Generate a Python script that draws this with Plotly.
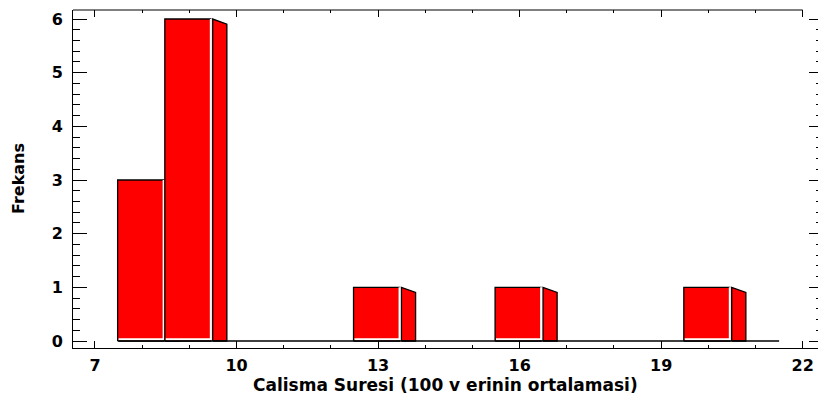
import plotly.graph_objects as go

# Histogram data: bin centres (width 1) and frequencies
bin_centers = [8, 9, 10, 11, 12, 13, 14, 15, 16, 17, 18, 19, 20, 21]
counts = [3, 6, 0, 0, 0, 1, 0, 0, 1, 0, 0, 0, 1, 0]
x_ticks = [7, 10, 13, 16, 19, 22]
y_ticks = [0, 1, 2, 3, 4, 5, 6]

BIN_W = 1.0
FRONT_L = -0.02      # front face offset from bin start
FRONT_R = 0.955      # front face end relative to bin start
SIDE_GAP = 0.04      # gap between front face and side face
DEPTH = 0.30         # depth of the 3D side face (x units)
SLANT = 0.095        # drop of the side face top (y units)
RED = "#FF0000"
FONT = "DejaVu Sans"

fig = go.Figure()

sides, fronts, seps = [], [], []
for c, n in zip(bin_centers, counts):
    if n <= 0:
        continue
    lo = c - BIN_W / 2
    x0, x1 = lo + FRONT_L, lo + FRONT_R
    xs = x1 + SIDE_GAP
    fronts.append(([x0, x0, x1, x1, x0], [0, n, n, 0, 0]))
    sides.append(([xs, xs, xs + DEPTH, xs + DEPTH, xs], [0, n, n - SLANT, 0, 0]))
    seps.append(([x0 + 0.02, x1, x1], [0.035, 0.035, n]))

for (sx, sy), (fx, fy), (wx, wy) in zip(sides, fronts, seps):
    fig.add_trace(go.Scatter(x=sx, y=sy, fill="toself", fillcolor=RED, mode="lines",
                             line=dict(color="black", width=1.3), hoverinfo="skip", showlegend=False))
    fig.add_trace(go.Scatter(x=fx, y=fy, fill="toself", fillcolor=RED, mode="lines",
                             line=dict(color="black", width=1.3), hoverinfo="skip", showlegend=False))
    fig.add_trace(go.Scatter(x=wx, y=wy, mode="lines",
                             line=dict(color="white", width=2), hoverinfo="skip", showlegend=False))

# baseline under the histogram
lo_all = bin_centers[0] - BIN_W / 2
hi_all = bin_centers[-1] + BIN_W / 2
fig.add_trace(go.Scatter(x=[lo_all, hi_all], y=[0, 0], mode="lines",
                         line=dict(color="black", width=1.3), hoverinfo="skip", showlegend=False))

# invisible trace to anchor the mirrored axes
fig.add_trace(go.Scatter(x=[lo_all], y=[0], xaxis="x2", yaxis="y2", mode="markers",
                         marker=dict(opacity=0), hoverinfo="skip", showlegend=False))

XR = [6.534, 22.324]
YR = [-0.13, 6.168]
tickfont = dict(family=FONT, size=16, color="black", weight="bold")

fig.update_layout(
    width=818, height=404,
    margin=dict(l=73, r=0, t=10, b=56),
    paper_bgcolor="white", plot_bgcolor="white",
    showlegend=False,
    xaxis=dict(range=XR, showgrid=False, zeroline=False, showline=True, linecolor="black",
               linewidth=1, ticks="inside", ticklen=7, tickcolor="black",
               tickvals=x_ticks, ticktext=[str(v) for v in x_ticks],
               tickfont=tickfont, ticklabelstandoff=3,
               minor=dict(ticks="inside", ticklen=3, dtick=1, tick0=7, tickcolor="black",
                          showgrid=False)),
    xaxis2=dict(range=XR, overlaying="x", side="top", showgrid=False, zeroline=False,
                showline=False, ticks="inside", ticklen=7,
                tickcolor="black", tickvals=x_ticks, showticklabels=False,
                minor=dict(ticks="inside", ticklen=3, dtick=1, tick0=7, tickcolor="black",
                           showgrid=False)),
    yaxis=dict(range=YR, showgrid=False, zeroline=False, showline=True, linecolor="black",
               linewidth=1, ticks="inside", ticklen=14, tickcolor="black",
               tickvals=y_ticks, ticktext=[str(v) for v in y_ticks],
               tickfont=tickfont, ticklabelstandoff=6,
               minor=dict(ticks="inside", ticklen=7, dtick=0.2, tick0=0, tickcolor="black",
                          showgrid=False)),
    yaxis2=dict(range=YR, overlaying="y", side="right", showgrid=False, zeroline=False,
                showline=False, ticks="inside", ticklen=9,
                tickcolor="black", tickvals=y_ticks, showticklabels=False,
                minor=dict(ticks="inside", ticklen=2, dtick=0.2, tick0=0, tickcolor="black",
                           showgrid=False)),
    shapes=[
        # top frame line, ending at the last major tick
        dict(type="line", xref="x", yref="paper", x0=XR[0], x1=x_ticks[-1], y0=1, y1=1,
             line=dict(color="black", width=1)),
    ],
    annotations=[
        dict(text="Calisma Suresi (100 v erinin ortalamasi)", xref="paper", yref="paper",
             x=0.5, y=0, xanchor="center", yanchor="top", yshift=-25, showarrow=False,
             font=dict(family=FONT, size=17, color="black", weight="bold")),
        dict(text="Frekans", xref="paper", yref="paper", x=0, y=0.5,
             xanchor="center", yanchor="middle", xshift=-55, textangle=-90, showarrow=False,
             font=dict(family=FONT, size=16, color="black", weight="bold")),
    ],
)

fig.write_html("out.html")
